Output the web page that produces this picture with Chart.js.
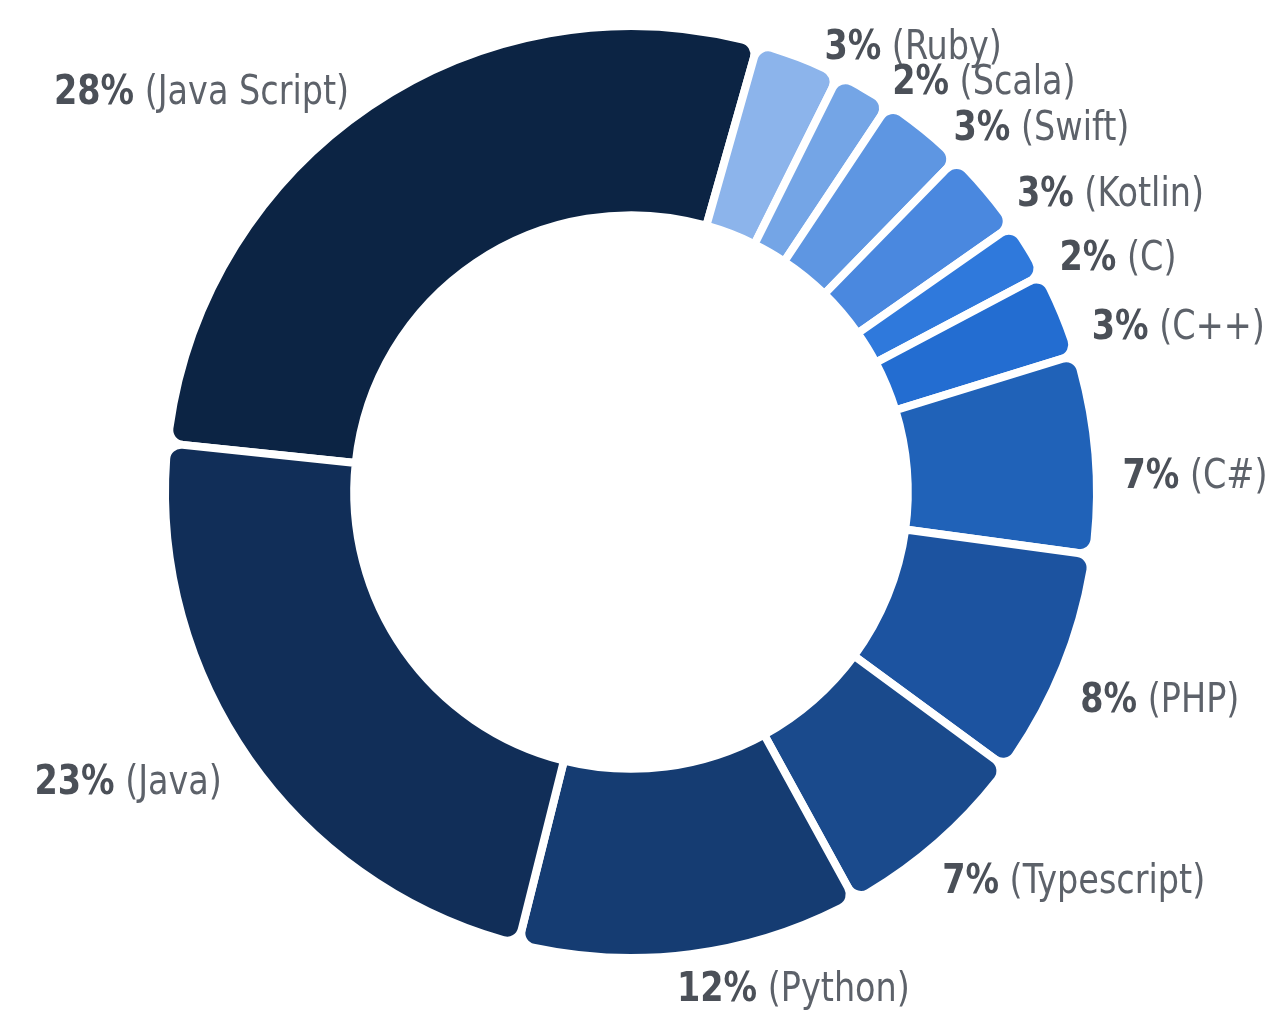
<!DOCTYPE html>
<html>
<head>
<meta charset="utf-8">
<script src="https://cdn.jsdelivr.net/npm/chart.js@4"></script>
<style>
  html, body { margin: 0; padding: 0; background: #ffffff; }
  #wrap { width: 1277px; height: 1018px; position: relative; }
</style>
</head>
<body>
<div id="wrap"><canvas id="langChart"></canvas></div>
<script>
// languages, clockwise from the 9 o'clock side
const languages = ["Java Script", "Ruby", "Scala", "Swift", "Kotlin", "C", "C++", "C#", "PHP", "Typescript", "Python", "Java"];
const shares = [28, 3, 2, 3, 3, 2, 3, 7, 8, 7, 12, 23];
const sliceColors = ["#0c2444", "#8cb4eb", "#74a5e6", "#5e96e2", "#4a88df", "#2f79dc", "#236dd1", "#2062b8", "#1c53a0", "#1a4a8c", "#153c72", "#112e58"];

const labelFont = "'DejaVu Sans Condensed', 'Liberation Sans Narrow', Roboto, sans-serif";

// 🏷️ outside labels: "28%" bold + " (Java Script)"
const outsideLabels = {
    id: "outsideLabels",
    afterDatasetsDraw(chart) {
        const ctx = chart.ctx;
        const arcs = chart.getDatasetMeta(0).data;
        ctx.save();
        ctx.textBaseline = "middle";
        ctx.textAlign = "left";
        arcs.forEach((arc, i) => {
            const p = arc.getProps(["x", "y", "startAngle", "endAngle", "outerRadius"], true);
            let mid = (p.startAngle + p.endAngle) / 2;
            const rightSide = Math.cos(mid) >= -0.15;
            if (rightSide) mid += 2 * Math.PI / 180;
            const r = p.outerRadius + 26;
            const x = p.x + Math.cos(mid) * r;
            const y = p.y + Math.sin(mid) * r + 9;

            const pct = shares[i] + "%";
            const name = " (" + languages[i] + ")";
            const sx = 0.93;
            ctx.font = "bold 40px " + labelFont;
            const w1 = ctx.measureText(pct).width * sx;
            ctx.font = "40px " + labelFont;
            const w2 = ctx.measureText(name).width * sx;

            const startX = rightSide ? x : x - w1 - w2 - 6;
            ctx.save();
            ctx.translate(startX, y);
            ctx.scale(sx, 1);
            ctx.fillStyle = "#4b5058";
            ctx.font = "bold 40px " + labelFont;
            ctx.fillText(pct, 0, 0);
            ctx.fillStyle = "#5d626a";
            ctx.font = "40px " + labelFont;
            ctx.fillText(name, w1 / sx, 0);
            ctx.restore();
        });
        ctx.restore();
    }
};

new Chart(document.getElementById("langChart"), {
    type: "doughnut",
    data: {
        labels: languages,
        datasets: [{
            data: shares,
            backgroundColor: sliceColors,
            borderColor: "#ffffff",
            borderWidth: 8,
            borderAlign: "center",
            borderRadius: { outerStart: 15, outerEnd: 15, innerStart: 0, innerEnd: 0 }
        }]
    },
    options: {
        responsive: true,
        maintainAspectRatio: false,
        animation: false,
        rotation: -84,
        radius: 466,
        cutout: "59.4%",
        layout: { padding: { top: 0, bottom: 34, left: 0, right: 15 } },
        plugins: {
            legend: { display: false },
            tooltip: { enabled: false }
        }
    },
    plugins: [outsideLabels]
});
</script>
</body>
</html>
